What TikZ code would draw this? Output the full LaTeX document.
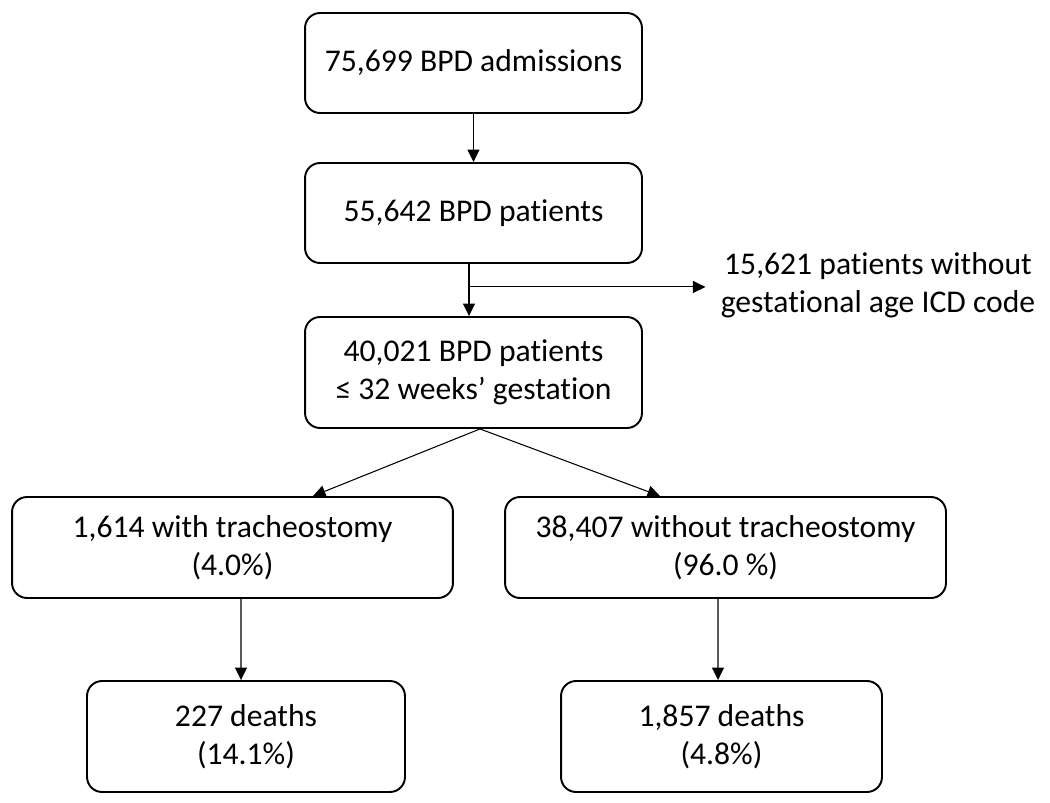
\documentclass[tikz,border=0pt]{standalone}
\usepackage{fontspec}
\setmainfont{Carlito}[Ligatures=NoCommon]
\usepackage{tikz}
\usetikzlibrary{arrows.meta,positioning}

\tikzset{
  flowbox/.style={draw, line width=1.1pt, rounded corners=0.3cm, align=center,
    font=\fontsize{18}{21.5}\selectfont, inner sep=0pt},
  flowarrow/.style={-{Triangle[length=0.25cm,width=0.24cm]}, line width=0.6pt}
}

\begin{document}
\begin{tikzpicture}[x=0.02cm, y=-0.02cm]
        \useasboundingbox (0,0) rectangle (1050,803);

        \node (adm) [flowbox, minimum width=6.74cm, minimum height=2.0cm] at (473.5,63) {75,699 BPD admissions};
        \node (pat) [flowbox, minimum width=6.74cm, minimum height=2.0cm] at (473.5,213) {55,642 BPD patients};
        \node (ges) [flowbox, minimum width=6.74cm, minimum height=2.22cm] at (473.5,372.5) {40,021 BPD patients\\ ≤ 32 weeks’ gestation};
        \node (tra) [flowbox, minimum width=8.82cm, minimum height=2.02cm] at (232.5,547.5) {1,614 with tracheostomy\\ (4.0\%)};
        \node (notra) [flowbox, minimum width=8.82cm, minimum height=2.02cm] at (725.5,547.5) {38,407 without tracheostomy\\ (96.0 \%)};
        \node (dtra) [flowbox, minimum width=6.36cm, minimum height=2.22cm] at (246,736.5) {227 deaths\\ (14.1\%)};
        \node (dnotra) [flowbox, minimum width=6.42cm, minimum height=2.22cm] at (721.5,736.5) {1,857 deaths\\ (4.8\%)};

        % excluded patients
        \node (excl) [align=center, font=\fontsize{18}{21.5}\selectfont, inner sep=0pt] at (878,285) {15,621 patients without\\ gestational age ICD code};

        \draw[flowarrow] (adm) -- (pat);
        \draw[flowarrow] ([xshift=-0.09cm]pat.south) -- ([xshift=-0.09cm]ges.north);
        \coordinate (split) at ([xshift=-0.09cm,yshift=-0.46cm]pat.south);
        \draw[flowarrow] (split) -- ([xshift=-0.3cm]excl.west |- split);

        \draw[flowarrow] ([xshift=0.13cm]ges.south) -- ([xshift=1.61cm]tra.north);
        \draw[flowarrow] ([xshift=0.13cm]ges.south) -- ([xshift=-1.31cm]notra.north);

        \draw[flowarrow] ([xshift=0.17cm]tra.south) -- ([xshift=-0.1cm]dtra.north);
        \draw[flowarrow] ([xshift=-0.15cm]notra.south) -- ([xshift=-0.07cm]dnotra.north);
      \end{tikzpicture}
\end{document}
